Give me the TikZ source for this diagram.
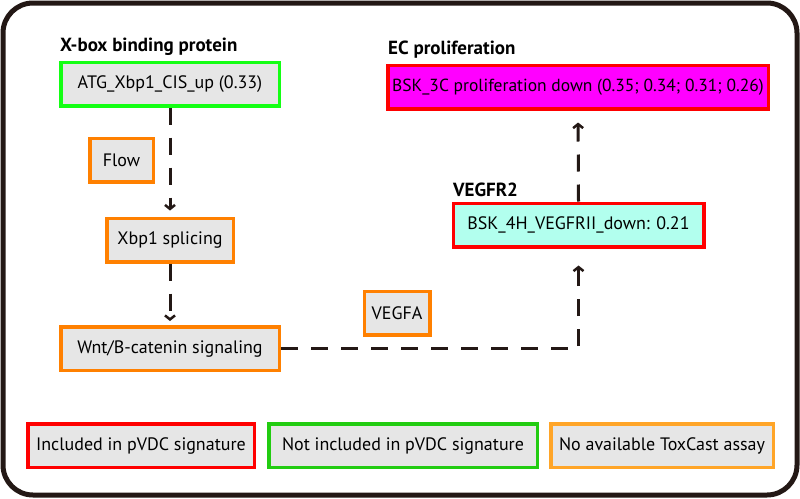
\documentclass[tikz,border=0pt]{standalone}
\usepackage{fontspec}
\setmainfont{PT Sans}
\usepackage{xcolor}
\usepackage{tikz}
\usetikzlibrary{positioning, calc, arrows.meta}
\definecolor{framebrown}{RGB}{35,24,21}
\definecolor{boxgray}{RGB}{230,230,230}
\definecolor{limegreen}{RGB}{20,255,20}
\definecolor{legendgreen}{RGB}{34,204,17}
\definecolor{nodeorange}{RGB}{255,128,0}
\definecolor{legendorange}{RGB}{255,165,40}
\definecolor{aquafill}{RGB}{178,255,238}
\definecolor{brightmagenta}{RGB}{255,0,255}

\begin{document}
\begin{tikzpicture}[x=1pt, y=-1pt,
		every node/.style={font=\fontsize{18}{21}\selectfont, text=black},
		assay/.style={draw, line width=3.5pt, fill=boxgray, minimum height=43.5pt, inner sep=0pt},
		grouplabel/.style={font=\fontsize{19}{22}\selectfont\bfseries, anchor=west, inner sep=0pt},
		link/.style={draw=framebrown, line width=3pt, dash pattern=on 17pt off 13pt, -{Straight Barb[length=4pt,width=10pt,line width=2.5pt]}}]
		\useasboundingbox (0,0) rectangle (800,498);
		\draw[framebrown, line width=5pt, rounded corners=30pt] (3,3) rectangle (797,495);
		
		% upstream branch
		\node[grouplabel] (xboxlbl) at (60,47) {X-box binding protein};
		\node[assay, draw=limegreen, minimum width=218.5pt] (atg) at (170,84) {ATG\_Xbp1\_CIS\_up (0.33)};
		\node[assay, draw=nodeorange, minimum width=63.5pt] (flow) at (121.5,160) {Flow};
		\node[assay, draw=nodeorange, minimum width=126.5pt] (xbp) at (170,240) {Xbp1 splicing};
		\node[assay, draw=nodeorange, minimum width=218.5pt] (wnt) at (170,348.5) {Wnt/B-catenin signaling};
		\node[assay, draw=nodeorange, minimum width=65.5pt] (vegfa) at (397,313) {VEGFA};
		
		% downstream branch
		\node[grouplabel] (vegfrlbl) at (453,190) {VEGFR2};
		\node[assay, draw=red, fill=aquafill, minimum width=250.5pt] (bskv) at (578.5,225) {BSK\_4H\_VEGFRII\_down: 0.21};
		\node[grouplabel] (eclbl) at (388,50) {EC proliferation};
		\node[assay, draw=red, fill=brightmagenta, minimum width=380.5pt, font=\fontsize{17.5}{21}\selectfont] (bskp) at (578,87) {BSK\_3C proliferation down (0.35; 0.34; 0.31; 0.26)};
		
		\draw[link, shorten >=6pt] (atg) -- (xbp);
		\draw[link, shorten >=4pt] (xbp) -- (wnt);
		\draw[link, shorten >=17pt] (wnt.east) -| (bskv.south);
		\draw[link, shorten >=12pt] (bskv.north) -- (bskp.south);
		
		% legend
		\node[assay, draw=red, minimum width=226.5pt] (leg1) at (141,445.5) {Included in pVDC signature};
		\node[assay, draw=legendgreen, minimum width=268.5pt] (leg2) at (403,445.5) {Not included in pVDC signature};
		\node[assay, draw=legendorange, minimum width=222.5pt] (leg3) at (662,445.5) {No available ToxCast assay};
\end{tikzpicture}
\end{document}
